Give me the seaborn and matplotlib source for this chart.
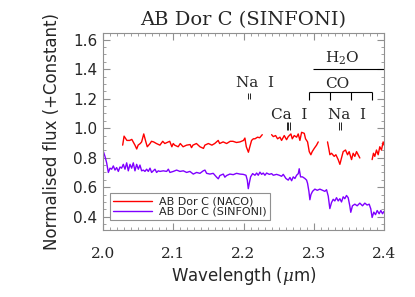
import numpy as np
import pandas as pd
import matplotlib
matplotlib.use('Agg')
import matplotlib.pyplot as plt
from matplotlib.ticker import MultipleLocator
import seaborn as sns

# NACO spectrum (red), NaN marks gaps in the spectrum
naco_wave = [2.028, 2.030, 2.034, 2.038, 2.041, 2.0455, 2.048, 2.050, 2.053, 2.055,
             2.058, 2.061, 2.063, 2.067, 2.069, 2.072, 2.076, 2.081, 2.085, 2.088,
             2.093, 2.095, 2.098, 2.100, 2.102, 2.107, 2.110, 2.114, 2.119, 2.124,
             2.126, 2.128, 2.133, 2.138, 2.143, 2.145, 2.150, 2.155, 2.159, 2.164,
             2.166, 2.171, 2.176, 2.181, 2.185, 2.190, 2.195, 2.200, 2.202, 2.204,
             2.207, 2.209, 2.2115, 2.214, 2.2163, 2.220, 2.223, 2.2267, np.nan,
             2.240, 2.2424, 2.2457, 2.2485, 2.2519, 2.2542, 2.258, 2.2613, 2.2637, 2.2675,
             2.2694, 2.2722, 2.2756, 2.2779, 2.2803, 2.2827, 2.2865, 2.2883, 2.2912, 2.2936,
             2.2959, 2.2978, 2.3007, 2.304, 2.3064, np.nan,
             2.3196, 2.3215, 2.323, 2.3253, 2.3291, 2.3315, 2.3348, 2.3372, 2.3395, 2.3419,
             2.3452, 2.3481, 2.3504, 2.3538, 2.3561, 2.3585, 2.3609, 2.3632, 2.3656, np.nan,
             2.3831, 2.385, 2.3869, 2.3893, 2.3917, 2.394, 2.3964, 2.3988, 2.4002, 2.4021]
naco_flux = [0.885, 0.946, 0.917, 0.917, 0.924, 0.885, 0.859, 0.885, 0.896, 0.907,
             0.961, 0.907, 0.874, 0.896, 0.911, 0.907, 0.896, 0.885, 0.911, 0.896,
             0.907, 0.911, 0.874, 0.896, 0.885, 0.874, 0.896, 0.874, 0.885, 0.889,
             0.868, 0.885, 0.896, 0.874, 0.863, 0.885, 0.896, 0.885, 0.896, 0.917,
             0.896, 0.907, 0.896, 0.911, 0.911, 0.903, 0.907, 0.917, 0.933, 0.874,
             0.837, 0.874, 0.917, 0.928, 0.928, 0.939, 0.935, 0.956, np.nan,
             0.956, 0.943, 0.950, 0.928, 0.939, 0.917, 0.950, 0.922, 0.943, 0.961,
             0.928, 0.950, 0.939, 0.961, 0.917, 0.972, 0.965, 0.928, 0.907, 0.841,
             0.820, 0.841, 0.863, 0.885, 0.907, np.nan,
             0.907, 0.860, 0.820, 0.830, 0.809, 0.820, 0.787, 0.755, 0.798, 0.841,
             0.852, 0.820, 0.841, 0.787, 0.830, 0.809, 0.841, 0.820, 0.798, np.nan,
             0.787, 0.830, 0.809, 0.852, 0.820, 0.874, 0.852, 0.907, 0.885, 0.928]

# SINFONI spectrum (purple)
sinfoni_wave = [2.0005, 2.0028, 2.0052, 2.0076, 2.0100, 2.0123, 2.0147, 2.0171, 2.0194, 2.0218,
                2.0242, 2.0265, 2.0289, 2.0313, 2.0337, 2.036, 2.0384, 2.0408, 2.0431, 2.0455,
                2.0479, 2.0503, 2.0526, 2.055, 2.0574, 2.0597, 2.0621, 2.0645, 2.0669, 2.0692,
                2.0716, 2.074, 2.0763, 2.0787, 2.0811, 2.0858, 2.0906, 2.093, 2.0953, 2.1001,
                2.1048, 2.1095, 2.1143, 2.119, 2.1237, 2.1285, 2.1332, 2.138, 2.1427, 2.1451,
                2.1475, 2.1522, 2.1569, 2.1617, 2.1641, 2.1664, 2.1712, 2.1735, 2.1759, 2.1806,
                2.1854, 2.1901, 2.1949, 2.1996, 2.2035, 2.2054, 2.2068, 2.2082, 2.2101, 2.213,
                2.2163, 2.2187, 2.221, 2.2234, 2.2258, 2.2281, 2.2305, 2.2329, 2.2367, 2.24,
                2.2424, 2.2471, 2.2509, 2.2542, 2.2566, 2.2604, 2.2637, 2.2661, 2.2685, 2.2708,
                2.2732, 2.2756, 2.278, 2.2793, 2.2812, 2.284, 2.2874, 2.2898, 2.2912, 2.2931,
                2.2945, 2.296, 2.2983, 2.3016, 2.305, 2.3087, 2.3125, 2.3158, 2.3182, 2.3206,
                2.3229, 2.3253, 2.3277, 2.33, 2.3324, 2.3348, 2.3372, 2.3395, 2.3419, 2.3442,
                2.3466, 2.349, 2.3513, 2.3527, 2.3551, 2.3585, 2.3618, 2.3656, 2.3694, 2.3727,
                2.376, 2.3789, 2.3812, 2.3831, 2.3855, 2.3879, 2.3903, 2.3931, 2.3955, 2.3979,
                2.3998, 2.4017]
sinfoni_flux = [0.842, 0.809, 0.765, 0.700, 0.729, 0.722, 0.744, 0.716, 0.733, 0.707,
                0.737, 0.729, 0.755, 0.722, 0.765, 0.711, 0.755, 0.729, 0.765, 0.711,
                0.755, 0.722, 0.750, 0.711, 0.716, 0.707, 0.722, 0.707, 0.729, 0.700,
                0.711, 0.722, 0.700, 0.711, 0.707, 0.711, 0.707, 0.722, 0.700, 0.707,
                0.716, 0.707, 0.711, 0.700, 0.707, 0.689, 0.700, 0.694, 0.711, 0.716,
                0.694, 0.689, 0.694, 0.668, 0.657, 0.679, 0.689, 0.668, 0.679, 0.689,
                0.685, 0.694, 0.689, 0.687, 0.681, 0.648, 0.590, 0.626, 0.670, 0.692,
                0.681, 0.696, 0.681, 0.702, 0.687, 0.696, 0.681, 0.696, 0.687, 0.692,
                0.681, 0.687, 0.681, 0.674, 0.687, 0.659, 0.648, 0.666, 0.644, 0.670,
                0.659, 0.681, 0.692, 0.725, 0.670, 0.670, 0.659, 0.648, 0.626, 0.572,
                0.515, 0.550, 0.572, 0.587, 0.579, 0.587, 0.579, 0.572, 0.583, 0.540,
                0.455, 0.496, 0.518, 0.507, 0.529, 0.507, 0.522, 0.500, 0.535, 0.522,
                0.544, 0.529, 0.474, 0.430, 0.474, 0.485, 0.474, 0.492, 0.474, 0.492,
                0.479, 0.485, 0.453, 0.395, 0.431, 0.414, 0.442, 0.420, 0.442, 0.420,
                0.435, 0.427]

series_names = ['AB Dor C (NACO)', 'AB Dor C (SINFONI)']
series_colors = ['#ff0000', '#7f00ff']

# line identifications
nai1_lines = [2.2062, 2.2090]
cai_lines = [2.2614, 2.2630, 2.2656]
nai2_lines = [2.3355, 2.3386]
co_heads = [2.2935, 2.3227, 2.3535, 2.3829]

sns.set_style('ticks')
plt.rcParams['font.family'] = ['DejaVu Sans']
plt.rcParams['mathtext.fontset'] = 'dejavuserif'

naco = pd.DataFrame({'wave': naco_wave, 'flux': naco_flux})
naco['segment'] = naco['flux'].isna().cumsum()
naco['name'] = series_names[0]
sinf = pd.DataFrame({'wave': sinfoni_wave, 'flux': sinfoni_flux})
sinf['segment'] = 100
sinf['name'] = series_names[1]
df = pd.concat([naco, sinf]).dropna()

fig = plt.figure(figsize=(4.15, 2.97), dpi=100)
ax = fig.add_axes([0.2482, 0.2256, 0.6771, 0.6633])

sns.lineplot(data=df, x='wave', y='flux', hue='name', units='segment', estimator=None,
             hue_order=series_names, palette=dict(zip(series_names, series_colors)),
             lw=1.0, ax=ax)

ax.set_xlim(2.0, 2.4)
ax.set_ylim(0.31, 1.645)
ax.set_xticks([2.0, 2.1, 2.2, 2.3, 2.4])
ax.set_yticks([0.4, 0.6, 0.8, 1.0, 1.2, 1.4, 1.6])
ax.xaxis.set_minor_locator(MultipleLocator(0.01))
ax.yaxis.set_minor_locator(MultipleLocator(0.05))
ax.tick_params(which='both', direction='in', top=True, right=True, color='#909090')
ax.tick_params(which='major', length=5, width=0.8)
ax.tick_params(which='minor', length=2.5, width=0.6)
ax.tick_params(axis='x', pad=12, labelsize=11)
ax.tick_params(axis='y', pad=4, labelsize=11)
for lbl in ax.get_xticklabels():
    lbl.set_fontfamily('DejaVu Serif')
for sp in ax.spines.values():
    sp.set_color('#909090')
    sp.set_linewidth(0.8)

ax.set_xlabel(r'Wavelength ($\mu$m)', fontsize=12, labelpad=3)
ax.set_ylabel('Normalised flux (+Constant)', fontsize=12, labelpad=9)
ax.set_title('AB Dor C (SINFONI)', fontsize=14, family='DejaVu Serif', pad=6)

serif = dict(family='DejaVu Serif', fontsize=11, ha='center', va='center')
ax.text(2.2163, 1.306, 'Na  I', **serif)
ax.vlines(nai1_lines, 1.20, 1.24, color='k', lw=0.6)
ax.text(2.2647, 1.091, 'Ca  I', **serif)
ax.vlines(cai_lines, 0.99, 1.04, color='k', lw=0.6)
ax.text(2.347, 1.091, 'Na  I', **serif)
ax.vlines(nai2_lines, 0.99, 1.04, color='k', lw=0.6)
ax.hlines(1.243, co_heads[0], co_heads[-1], color='k', lw=0.8)
ax.vlines(co_heads, 1.193, 1.243, color='k', lw=0.8)
ax.text(2.3337, 1.30, 'CO', **serif)
ax.hlines(1.402, 2.299, 2.4, color='k', lw=0.8)
ax.text(2.3408, 1.471, r'H$_2$O', **serif)

handles, labels = ax.get_legend_handles_labels()
leg = ax.legend(handles, labels, loc='lower left', bbox_to_anchor=(0.025, 0.05),
                borderaxespad=0, fontsize=8, handlelength=3.5, handletextpad=0.6,
                labelspacing=0.0, borderpad=0.3, fancybox=False, framealpha=1)
leg.get_frame().set_edgecolor('#909090')
leg.get_frame().set_linewidth(0.8)

fig.savefig('out.png', dpi=100)
